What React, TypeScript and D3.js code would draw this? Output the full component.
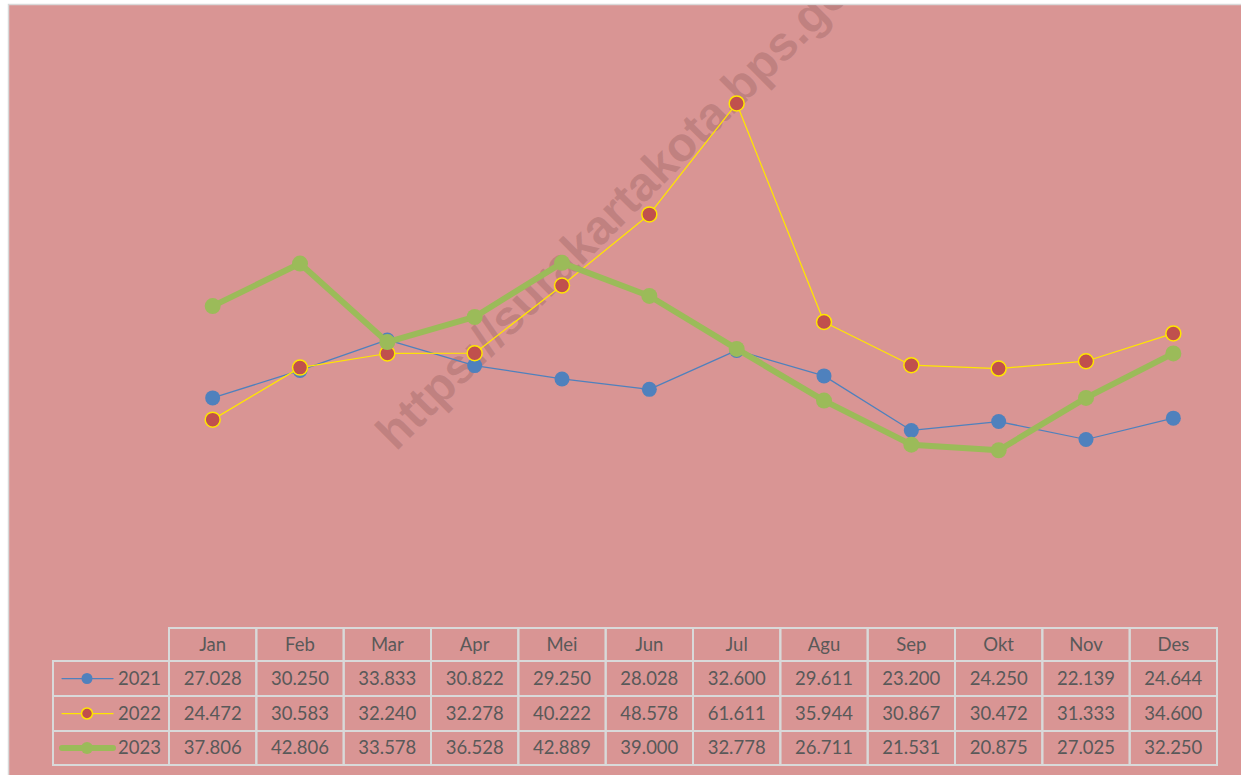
import React from "react";
import * as d3 from "d3";

const months = ["Jan", "Feb", "Mar", "Apr", "Mei", "Jun", "Jul", "Agu", "Sep", "Okt", "Nov", "Des"];
const s2021 = [27.028, 30.25, 33.833, 30.822, 29.25, 28.028, 32.6, 29.611, 23.2, 24.25, 22.139, 24.644];
const s2022 = [24.472, 30.583, 32.24, 32.278, 40.222, 48.578, 61.611, 35.944, 30.867, 30.472, 31.333, 34.6];
const s2023 = [37.806, 42.806, 33.578, 36.528, 42.889, 39.0, 32.778, 26.711, 21.531, 20.875, 27.025, 32.25];
const seriesNames = ["2021", "2022", "2023"];

const W = 1241;
const H = 775;

export default function App() {
  const x = d3.scaleBand<string>().domain(months).range([169, 1217]).padding(0);
  const y = d3.scaleLinear().domain([0, 70]).range([628, 32]);
  const line = d3
    .line<number>()
    .x((_, i) => (x(months[i]) as number) + x.bandwidth() / 2)
    .y((v) => y(v));

  const series = [
    { name: seriesNames[0], data: s2021, stroke: "#4F81BD", sw: 1.25, fill: "#4F81BD", r: 7.5, mStroke: "none", mSw: 0 },
    { name: seriesNames[1], data: s2022, stroke: "#FFE600", sw: 1.25, fill: "#C0504D", r: 7.5, mStroke: "#FFE600", mSw: 1.5 },
    { name: seriesNames[2], data: s2023, stroke: "#9BBB59", sw: 6, fill: "#9BBB59", r: 8, mStroke: "none", mSw: 0 },
  ];

  const headerTop = 628;
  const headerBottom = 661;
  const rowBottoms = [696, 731, 765];
  const legendLeft = 53;
  const tableLeft = 169;
  const gridColor = "#D9D9D9";
  const textColor = "#595959";
  const font = "Lato, 'Open Sans', sans-serif";

  const rowTops = [headerBottom, rowBottoms[0], rowBottoms[1]];

  return (
    <svg
      width={W}
      height={H}
      style={{ position: "absolute", left: 0, top: 0, display: "block" }}
    >
      <defs>
        <clipPath id="chartClip">
          <rect x={9} y={5} width={W} height={H} />
        </clipPath>
      </defs>
      <rect x={0} y={0} width={W} height={H} fill="#ffffff" />
      <rect x={8.5} y={4.5} width={W + 10} height={H + 10} fill="#D99594" stroke="#D9D9D9" strokeWidth={1.5} />

      {/* watermark */}
      <g clipPath="url(#chartClip)">
        <text
          x={0}
          y={0}
          transform="translate(396,452) rotate(-45)"
          fontFamily="'Liberation Sans', Arial, sans-serif"
          fontWeight="bold"
          fontSize={48}
          fill="rgba(120,70,70,0.25)"
        >
          https://surakartakota.bps.go.id
        </text>
      </g>

      {/* lines */}
      {series.map((s) => (
        <g key={s.name}>
          <path d={line(s.data) as string} fill="none" stroke={s.stroke} strokeWidth={s.sw} strokeLinejoin="round" />
          {s.data.map((v, i) => (
            <circle
              key={i}
              cx={(x(months[i]) as number) + x.bandwidth() / 2}
              cy={y(v)}
              r={s.r}
              fill={s.fill}
              stroke={s.mStroke}
              strokeWidth={s.mSw}
            />
          ))}
        </g>
      ))}

      {/* data table */}
      <g fontFamily={font} fontSize={18.5} fill={textColor}>
        {months.map((m) => (
          <g key={m}>
            <rect
              x={x(m) as number}
              y={headerTop}
              width={x.bandwidth()}
              height={headerBottom - headerTop}
              fill="none"
              stroke={gridColor}
              strokeWidth={2}
            />
            <text x={(x(m) as number) + x.bandwidth() / 2} y={(headerTop + headerBottom) / 2 + 6} textAnchor="middle">
              {m}
            </text>
          </g>
        ))}
        {series.map((s, r) => {
          const top = rowTops[r];
          const bottom = rowBottoms[r];
          const cy = (top + bottom) / 2;
          return (
            <g key={s.name}>
              <rect x={legendLeft} y={top} width={tableLeft - legendLeft} height={bottom - top} fill="none" stroke={gridColor} strokeWidth={2} />
              <line x1={62} x2={113} y1={cy} y2={cy} stroke={s.stroke} strokeWidth={s.sw} strokeLinecap="round" />
              <circle cx={87} cy={cy} r={s.r - 2} fill={s.fill} stroke={s.mStroke} strokeWidth={s.mSw} />
              <text x={118} y={cy + 6}>{s.name}</text>
              {s.data.map((v, i) => (
                <g key={i}>
                  <rect x={x(months[i]) as number} y={top} width={x.bandwidth()} height={bottom - top} fill="none" stroke={gridColor} strokeWidth={2} />
                  <text x={(x(months[i]) as number) + x.bandwidth() / 2} y={cy + 6} textAnchor="middle">
                    {d3.format(".3f")(v)}
                  </text>
                </g>
              ))}
            </g>
          );
        })}
      </g>
    </svg>
  );
}
